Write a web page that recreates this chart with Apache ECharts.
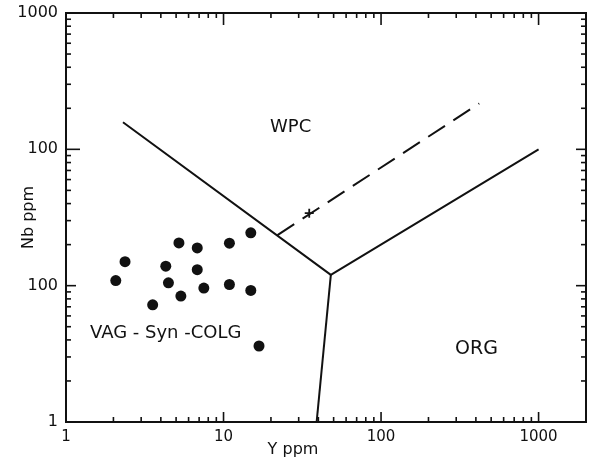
<!DOCTYPE html>
<html>
<head>
<meta charset="utf-8">
<script src="https://cdn.jsdelivr.net/npm/echarts@6/dist/echarts.min.js"></script>
<style>
html,body{margin:0;padding:0;background:#fff;}
#c{width:589px;height:459px;}
</style>
</head>
<body>
<div id="c"></div>
<script>
// ---- data ----
const samplesY  = [2.37, 2.07, 5.21, 6.81, 10.9, 14.9, 4.30, 6.81, 4.47, 5.36, 7.50, 10.9, 14.9, 3.55, 16.8];
const samplesNb = [15.0, 10.9, 20.6, 18.9, 20.5, 24.4, 13.9, 13.1, 10.5, 8.39, 9.61, 10.2, 9.23, 7.23, 3.61];
const boundaryWPG = [[2.3, 158], [48, 12], [1000, 100]];
const boundaryORG = [[48, 12], [39, 1]];
const dashedBoundary = [[22, 23.5], [420, 217]];
const plusMark = [[35, 34]];
const xTickValues = [1,2,3,4,5,6,7,8,9,10,20,30,40,50,60,70,80,90,100,200,300,400,500,600,700,800,900,1000];
const yTickValues = [1,2,3,4,5,6,7,8,9,10,20,30,40,50,60,70,80,90,100,200,300,400,500,600,700,800,900,1000];
const xTickLabels = {1:'1', 10:'10', 100:'100', 1000:'1000'};
const yTickLabels = {1:'1', 10:'100', 100:'100', 1000:'1000'};
const regionNames = ['WPC', 'ORG', 'VAG - Syn -COLG'];
const xName = 'Y ppm';
const yName = 'Nb ppm';

// ---- chart ----
const FONT = '"DejaVu Sans", "Liberation Sans", sans-serif';
const INK = '#111';
const X_MIN = 1, X_MAX = 2000, Y_MIN = 1, Y_MAX = 1000;
const chart = echarts.init(document.getElementById('c'), null, {renderer: 'canvas'});

function isMajor(v){ const l = Math.log10(v); return Math.abs(l - Math.round(l)) < 1e-9; }

const samples = samplesY.map((y, i) => [y, samplesNb[i]]);

chart.setOption({
  animation: false,
  backgroundColor: '#fff',
  grid: {left: 66, right: 3, top: 13, bottom: 37, containLabel: false, outerBoundsMode: 'none',
    show: true, borderColor: INK, borderWidth: 2, backgroundColor: 'transparent'},
  xAxis: {
    type: 'log', logBase: 10, min: X_MIN, max: X_MAX,
    name: xName, nameLocation: 'middle', nameGap: 20, nameMoveOverlap: false,
    nameTextStyle: {color: INK, fontFamily: FONT, fontSize: 16, verticalAlign: 'top', padding: [0, 66, 0, 0]},
    axisLine: {show: true, lineStyle: {color: INK, width: 2}},
    axisTick: {show: false},
    minorTick: {show: false},
    splitLine: {show: false},
    axisLabel: {color: INK, fontFamily: FONT, fontSize: 15, margin: 8, showMaxLabel: false,
      formatter: v => xTickLabels[Math.round(v)] || ''}
  },
  yAxis: {
    type: 'log', logBase: 10, min: Y_MIN, max: Y_MAX,
    name: yName, nameLocation: 'middle', nameGap: 29, nameRotate: 90, nameMoveOverlap: false,
    nameTextStyle: {color: INK, fontFamily: FONT, fontSize: 16},
    axisLine: {show: true, lineStyle: {color: INK, width: 2}},
    axisTick: {show: false},
    minorTick: {show: false},
    splitLine: {show: false},
    axisLabel: {color: INK, fontFamily: FONT, fontSize: 16, margin: 8,
      formatter: v => yTickLabels[Math.round(v)] || ''}
  },
  graphic: [
    {type: 'text', left: 270, top: 118, style: {text: regionNames[0], fill: INK, font: '18px ' + FONT}},
    {type: 'text', left: 455, top: 340, style: {text: regionNames[1], fill: INK, font: '19px ' + FONT}},
    {type: 'text', left: 90, top: 324, style: {text: regionNames[2], fill: INK, font: '18px ' + FONT}}
  ],
  series: [
    {
      type: 'custom', name: 'xticks', silent: true, clip: false, z: 5,
      data: xTickValues.map(v => [v, Y_MIN]),
      renderItem: (params, api) => {
        const v = api.value(0);
        const len = isMajor(v) ? 10 : 5;
        const b = api.coord([v, Y_MIN]);
        const t = api.coord([v, Y_MAX]);
        const st = {stroke: INK, lineWidth: 1.6};
        return {type: 'group', children: [
          {type: 'line', shape: {x1: b[0], y1: b[1], x2: b[0], y2: b[1] - len}, style: st},
          {type: 'line', shape: {x1: t[0], y1: t[1], x2: t[0], y2: t[1] + len + (isMajor(v) ? 2 : 0)}, style: st}
        ]};
      }
    },
    {
      type: 'custom', name: 'yticks', silent: true, clip: false, z: 5,
      data: yTickValues.map(v => [X_MIN, v]),
      renderItem: (params, api) => {
        const v = api.value(1);
        const len = isMajor(v) ? 10 : 5;
        const l = api.coord([X_MIN, v]);
        const r = api.coord([X_MAX, v]);
        const st = {stroke: INK, lineWidth: 1.6};
        return {type: 'group', children: [
          {type: 'line', shape: {x1: l[0], y1: l[1], x2: l[0] + len + (Math.round(v) === 100 ? 4 : 0), y2: l[1]}, style: st},
          {type: 'line', shape: {x1: r[0], y1: r[1], x2: r[0] - len, y2: r[1]}, style: st}
        ]};
      }
    },
    {
      type: 'line', name: 'WPG boundary', data: boundaryWPG, showSymbol: false, silent: true,
      lineStyle: {color: INK, width: 2}
    },
    {
      type: 'line', name: 'ORG boundary', data: boundaryORG, showSymbol: false, silent: true,
      lineStyle: {color: INK, width: 2}
    },
    {
      type: 'line', name: 'dashed', data: dashedBoundary, showSymbol: false, silent: true,
      lineStyle: {color: INK, width: 2, type: [20, 10]}
    },
    {
      type: 'scatter', name: 'plus', data: plusMark, silent: true,
      symbol: 'path://M4,0 L6,0 L6,4 L10,4 L10,6 L6,6 L6,10 L4,10 L4,6 L0,6 L0,4 L4,4 Z',
      symbolSize: 9, itemStyle: {color: INK, opacity: 1}
    },
    {
      type: 'scatter', name: 'samples', data: samples, silent: true,
      symbol: 'circle', symbolSize: 11, itemStyle: {color: INK, opacity: 1}
    }
  ]
});
</script>
</body>
</html>
